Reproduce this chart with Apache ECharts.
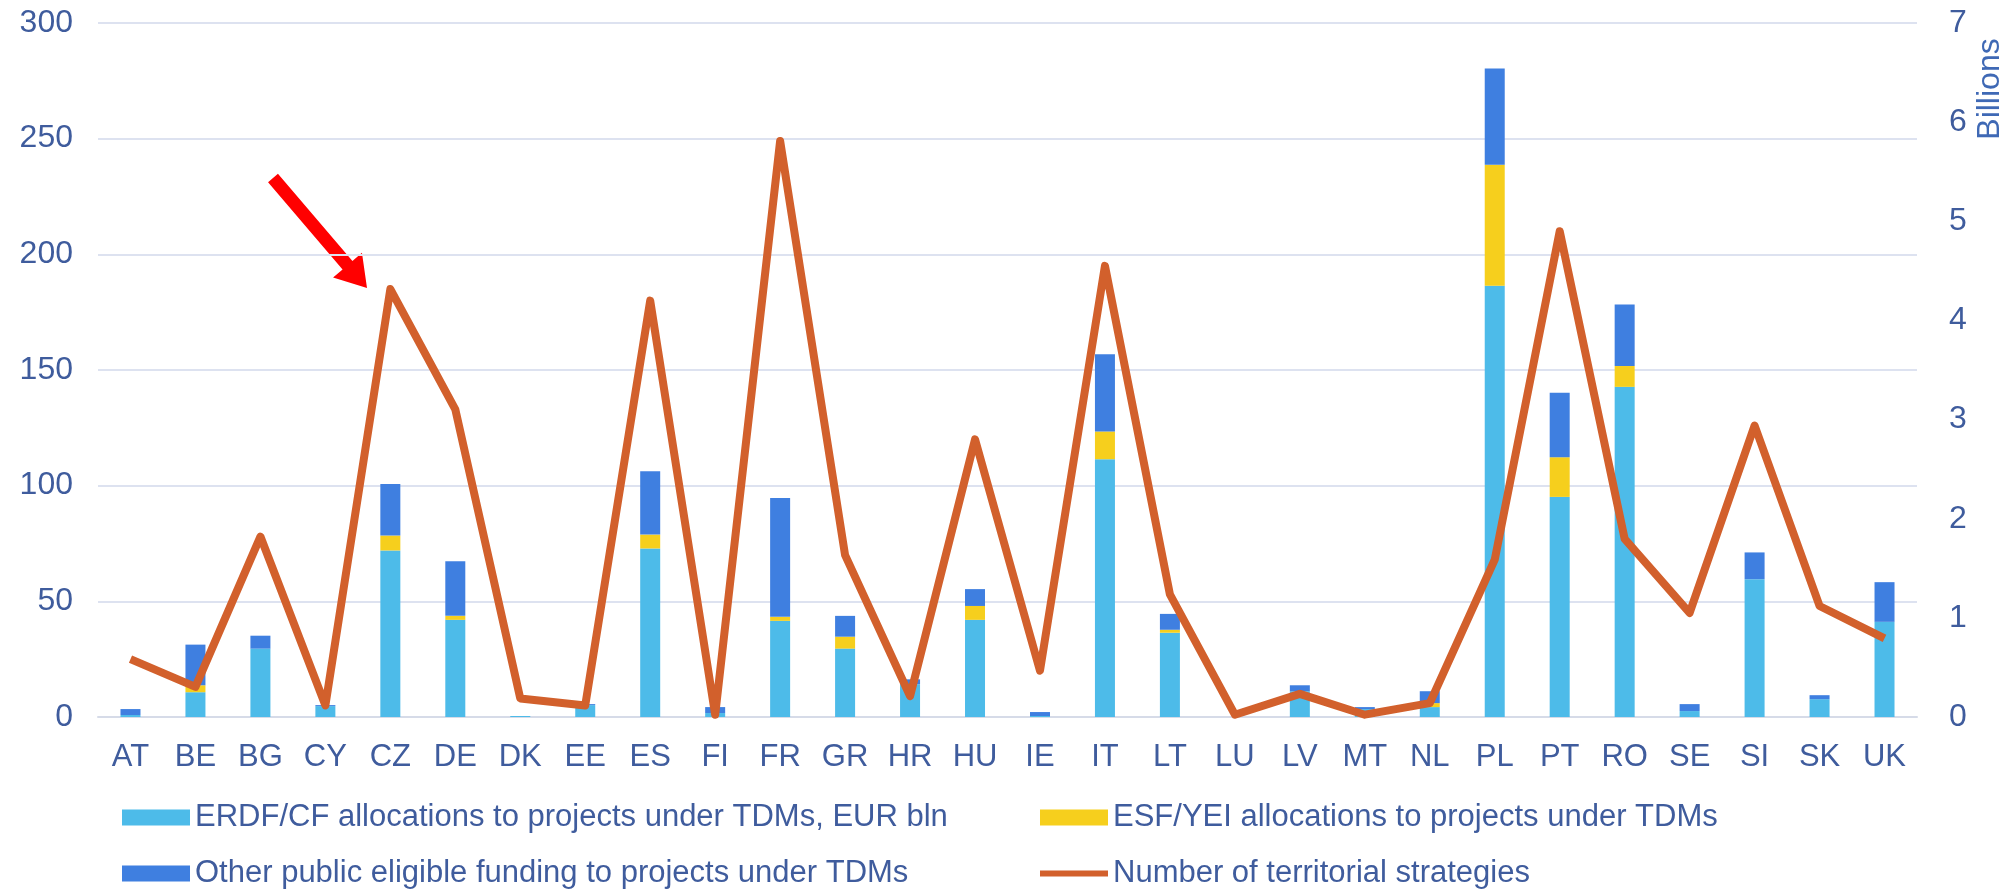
<!DOCTYPE html>
<html>
<head>
<meta charset="utf-8">
<script src="https://cdn.jsdelivr.net/npm/echarts@6/dist/echarts.min.js"></script>
<style>
    html, body { margin: 0; padding: 0; background: #fff; }
    #chart { width: 2012px; height: 889px; }
</style>
</head>
<body>
<div id="chart"></div>
<script>
var countries = ['AT', 'BE', 'BG', 'CY', 'CZ', 'DE', 'DK', 'EE', 'ES', 'FI', 'FR', 'GR', 'HR', 'HU',
    'IE', 'IT', 'LT', 'LU', 'LV', 'MT', 'NL', 'PL', 'PT', 'RO', 'SE', 'SI', 'SK', 'UK'];

// EUR bln, right axis
var erdfValues = [0.02, 0.25, 0.69, 0.11, 1.68, 0.98, 0.01, 0.12, 1.70, 0.04, 0.97, 0.69, 0.33, 0.98,
    0.01, 2.60, 0.85, 0, 0.26, 0.08, 0.10, 4.35, 2.22, 3.33, 0.06, 1.39, 0.18, 0.96];
var esfValues = [0, 0.07, 0, 0, 0.15, 0.04, 0, 0, 0.14, 0, 0.04, 0.12, 0, 0.14,
    0, 0.28, 0.03, 0, 0, 0, 0.04, 1.22, 0.40, 0.21, 0, 0, 0, 0];
var otherValues = [0.06, 0.41, 0.13, 0.01, 0.52, 0.55, 0, 0.01, 0.64, 0.06, 1.20, 0.21, 0.05, 0.17,
    0.04, 0.78, 0.16, 0, 0.06, 0.02, 0.12, 0.97, 0.65, 0.62, 0.07, 0.27, 0.04, 0.40];

// count, left axis
var strategyCounts = [25, 13, 78, 5, 185, 133, 8, 5, 180, 1, 249, 70, 9, 120,
    20, 195, 53, 1, 10, 1, 6, 68, 210, 77, 45, 126, 48, 34];

var leftTicks = [0, 300, 50];
var rightTicks = [0, 7, 1];

var names = [
    'ERDF/CF allocations to projects under TDMs, EUR bln',
    'ESF/YEI allocations to projects under TDMs',
    'Other public eligible funding to projects under TDMs',
    'Number of territorial strategies'
];

var font = '"Liberation Sans", Arial, sans-serif';
var labelColor = '#3f5c9d';

// red annotation arrow
function arrowPoints(tail, tip, w, headW, headLen) {
    var dx = tip[0] - tail[0], dy = tip[1] - tail[1];
    var len = Math.sqrt(dx * dx + dy * dy);
    var ux = dx / len, uy = dy / len;
    var px = -uy, py = ux;
    var nx = tip[0] - ux * headLen, ny = tip[1] - uy * headLen;
    return [
        [tail[0] + px * w / 2, tail[1] + py * w / 2],
        [nx + px * w / 2, ny + py * w / 2],
        [nx + px * headW / 2, ny + py * headW / 2],
        tip,
        [nx - px * headW / 2, ny - py * headW / 2],
        [nx - px * w / 2, ny - py * w / 2],
        [tail[0] - px * w / 2, tail[1] - py * w / 2]
    ];
}

// one legend per entry so the 2x2 block sits where the original has it
function legendAt(name, icon, left, top) {
    return {
        left: left,
        top: top,
        padding: 0,
        itemWidth: 68,
        itemHeight: 16,
        itemGap: 0,
        itemTextGap: 6,
        selectedMode: false,
        textStyle: { color: labelColor, fontSize: 31 },
        data: [{ name: name, icon: icon }]
    };
}

var chart = echarts.init(document.getElementById('chart'));

var option = {
    animation: false,
    textStyle: { fontFamily: font },
    grid: {
        left: 98,
        right: 95,
        top: 23,
        bottom: 172,
        containLabel: false
    },
    legend: [
        legendAt(names[0], 'rect', 122, 802),
        legendAt(names[2], 'rect', 122, 858),
        legendAt(names[1], 'rect', 1040, 802),
        legendAt(names[3], 'path://M0,0 L68,0 L68,6 L0,6 Z', 1040, 858)
    ],
    xAxis: {
        type: 'category',
        data: countries,
        axisTick: { show: false },
        axisLine: { lineStyle: { color: '#d6dbe8', width: 2 } },
        axisLabel: { color: labelColor, fontSize: 31, margin: 25 }
    },
    yAxis: [{
        type: 'value',
        min: leftTicks[0],
        max: leftTicks[1],
        interval: leftTicks[2],
        axisLabel: { color: labelColor, fontSize: 32, margin: 25 },
        splitLine: { lineStyle: { color: '#dde2f0', width: 2 } }
    }, {
        type: 'value',
        position: 'right',
        min: rightTicks[0],
        max: rightTicks[1],
        interval: rightTicks[2],
        axisLabel: { color: labelColor, fontSize: 32, margin: 32 },
        splitLine: { show: false }
    }],
    series: [{
        name: names[0],
        type: 'bar',
        stack: 'total',
        yAxisIndex: 1,
        barWidth: 20,
        itemStyle: { color: '#4dbbe9' },
        data: erdfValues
    }, {
        name: names[1],
        type: 'bar',
        stack: 'total',
        yAxisIndex: 1,
        barWidth: 20,
        itemStyle: { color: '#f6cf1d' },
        data: esfValues
    }, {
        name: names[2],
        type: 'bar',
        stack: 'total',
        yAxisIndex: 1,
        barWidth: 20,
        itemStyle: { color: '#3f7fe0' },
        data: otherValues
    }, {
        name: names[3],
        type: 'line',
        yAxisIndex: 0,
        symbol: 'none',
        z: 5,
        lineStyle: { color: '#d2602c', width: 8, join: 'round' },
        itemStyle: { color: '#d2602c' },
        data: strategyCounts
    }],
    graphic: [{
        type: 'text',
        x: 1990,
        y: 89,
        rotation: Math.PI / 2,
        style: {
            text: 'Billions',
            font: '32px ' + font,
            fill: '#3f69b5',
            textAlign: 'center',
            textVerticalAlign: 'middle',
            align: 'center',
            verticalAlign: 'middle'
        }
    }, {
        type: 'polygon',
        shape: { points: arrowPoints([273, 178], [367, 288], 13, 38, 30) },
        style: { fill: '#ff0000' }
    }]
};

chart.setOption(option);
</script>
</body>
</html>
